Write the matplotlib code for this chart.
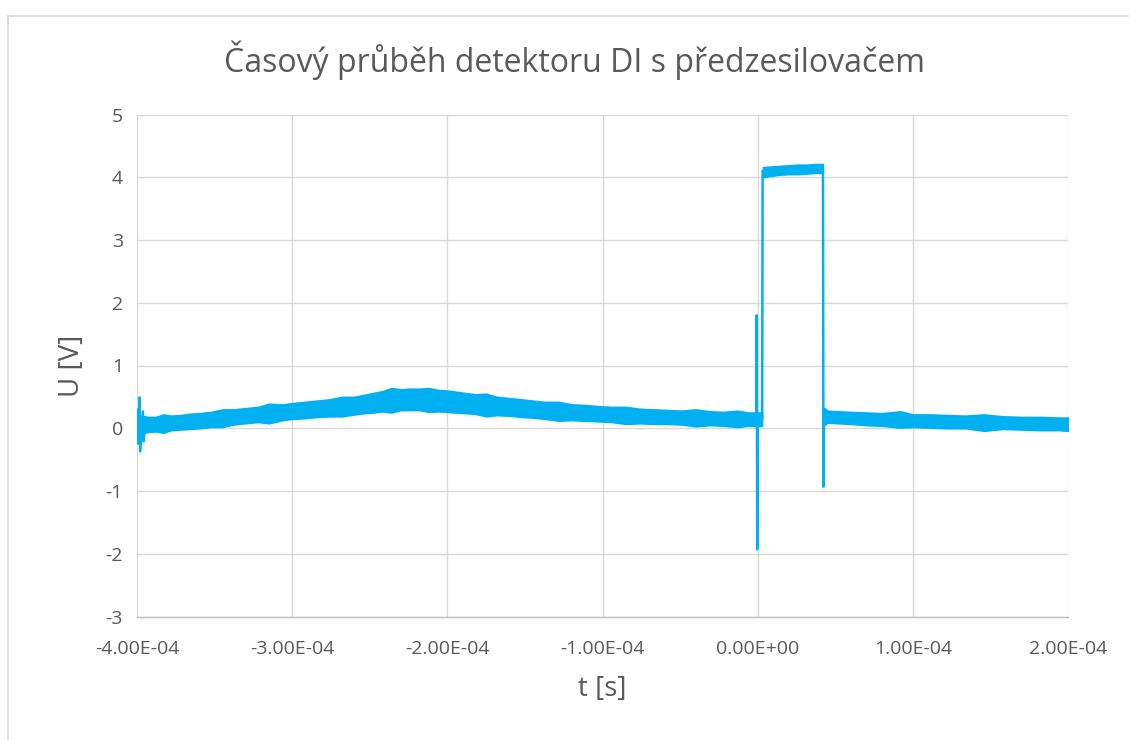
import matplotlib
matplotlib.use("Agg")
import matplotlib.pyplot as plt
from matplotlib.ticker import FuncFormatter, MultipleLocator
import numpy as np

BLUE = "#00B0F0"
GRID = "#D9D9D9"
TXT = "#595959"
FONT = "Open Sans"

# noise band of the trace (time in µs, U in V)
pre_t = [-400, -397, -393, -388, -383, -378, -372, -366, -360, -352, -345,
         -338, -330, -322, -315, -306, -300, -292, -284, -276, -268, -260,
         -254, -248, -242, -236, -230, -224, -218, -212, -206, -200, -194,
         -188, -182, -175, -168, -160, -152, -145, -137, -128, -120, -111,
         -102, -94, -85, -76, -67, -58, -49, -40, -31, -22, -13, -6, 2.8]
pre_hi = [0.20, 0.20, 0.18, 0.18, 0.22, 0.20, 0.21, 0.23, 0.24, 0.26, 0.30,
          0.30, 0.32, 0.34, 0.39, 0.38, 0.40, 0.42, 0.44, 0.46, 0.50, 0.50,
          0.53, 0.56, 0.59, 0.64, 0.62, 0.63, 0.63, 0.64, 0.61, 0.60, 0.58,
          0.56, 0.54, 0.55, 0.50, 0.48, 0.46, 0.44, 0.42, 0.42, 0.38, 0.37,
          0.35, 0.34, 0.34, 0.31, 0.30, 0.29, 0.28, 0.30, 0.27, 0.26, 0.28, 0.25, 0.25]
pre_lo = [-0.12, -0.08, -0.06, -0.05, -0.07, -0.03, -0.02, -0.01, 0.00, 0.02, 0.02,
          0.06, 0.08, 0.10, 0.08, 0.13, 0.15, 0.16, 0.18, 0.19, 0.19, 0.22,
          0.24, 0.25, 0.27, 0.25, 0.29, 0.29, 0.29, 0.26, 0.27, 0.26, 0.25,
          0.24, 0.23, 0.19, 0.21, 0.20, 0.18, 0.17, 0.15, 0.12, 0.13, 0.12,
          0.11, 0.10, 0.07, 0.08, 0.07, 0.07, 0.06, 0.03, 0.05, 0.04, 0.02, 0.04, 0.04]

top_t = [3.4, 8, 14, 20, 26, 32, 37, 42]
top_hi = [4.16, 4.17, 4.18, 4.19, 4.20, 4.20, 4.21, 4.21]
top_lo = [4.00, 4.02, 4.04, 4.05, 4.05, 4.06, 4.07, 4.07]

post_t = [43.0, 45, 52, 60, 70, 80, 92, 100, 110, 122, 134, 146, 158, 170, 182, 194, 200]
post_hi = [0.32, 0.28, 0.27, 0.26, 0.25, 0.24, 0.27, 0.22, 0.22, 0.21, 0.20, 0.22, 0.19, 0.18, 0.18, 0.17, 0.17]
post_lo = [0.05, 0.09, 0.08, 0.07, 0.05, 0.04, 0.01, 0.02, 0.01, 0.00, 0.00, -0.04, -0.01, -0.02, -0.03, -0.03, -0.04]

# sharp features drawn as a line
glitch_t = [-400, -399.4, -398.9, -398.4, -397.9, -396.2, -395.6, -395.0]
glitch_u = [0.0, 0.30, -0.25, 0.49, -0.37, 0.27, -0.21, 0.05]
rise_t = [-0.7, -0.6, -0.3, 0.0, 2.9, 3.2, 3.6]
rise_u = [0.15, 1.80, -1.93, 0.14, 0.15, 4.10, 4.08]
fall_t = [41.8, 42.1, 42.4, 42.7, 43.2]
fall_u = [4.12, 4.10, -0.93, 0.30, 0.22]

US = 1e-6

fig = plt.figure(figsize=(11.29, 7.40), dpi=100, facecolor="white")
ax = fig.add_axes([137 / 1129, 1 - 616.5 / 740, (1068 - 137) / 1129, (616.5 - 114.5) / 740])

for tt, hi, lo in [(pre_t, pre_hi, pre_lo), (top_t, top_hi, top_lo), (post_t, post_hi, post_lo)]:
    t = np.array(tt) * US
    ax.fill_between(t, lo, hi, color=BLUE, linewidth=1.2, edgecolor=BLUE, zorder=3)

for tt, uu in [(glitch_t, glitch_u), (rise_t, rise_u), (fall_t, fall_u)]:
    ax.plot(np.array(tt) * US, uu, color=BLUE, linewidth=1.8, zorder=3)

ax.set_xlim(-4e-4, 2e-4)
ax.set_ylim(-3, 5)
ax.xaxis.set_major_locator(MultipleLocator(1e-4))
ax.yaxis.set_major_locator(MultipleLocator(1))
ax.xaxis.set_major_formatter(FuncFormatter(lambda v, p: f"{v:.2E}"))
ax.yaxis.set_major_formatter(FuncFormatter(lambda v, p: f"{v:.0f}"))
ax.grid(True, color=GRID, linewidth=1.0, zorder=0)
ax.set_axisbelow(True)
for s in ["top", "right", "left"]:
    ax.spines[s].set_visible(False)
ax.spines["bottom"].set_color("#BFBFBF")
ax.spines["bottom"].set_linewidth(1.0)
ax.tick_params(length=0, labelsize=14, labelcolor=TXT, pad=10)
ax.tick_params(axis="x", pad=17)
for lab in ax.get_xticklabels() + ax.get_yticklabels():
    lab.set_fontfamily(FONT)

ax.set_xlabel("t [s]", fontsize=20, color=TXT, family=FONT, labelpad=12)
ax.set_ylabel("U [V]", fontsize=20, color=TXT, family=FONT, labelpad=14)
fig.text(574 / 1129, 1 - 60 / 740, "Časový průběh detektoru DI s předzesilovačem",
         ha="center", va="center", fontsize=23, color=TXT, family=FONT)

# outer chart frame (only left and top edges are visible in the picture)
fig.add_artist(plt.Line2D([7.5 / 1129, 7.5 / 1129], [0, 1 - 15.5 / 740],
                          color=GRID, linewidth=1.2, transform=fig.transFigure))
fig.add_artist(plt.Line2D([7.5 / 1129, 1], [1 - 15.5 / 740, 1 - 15.5 / 740],
                          color=GRID, linewidth=1.2, transform=fig.transFigure))

fig.savefig("out.png", dpi=100, facecolor="white")
